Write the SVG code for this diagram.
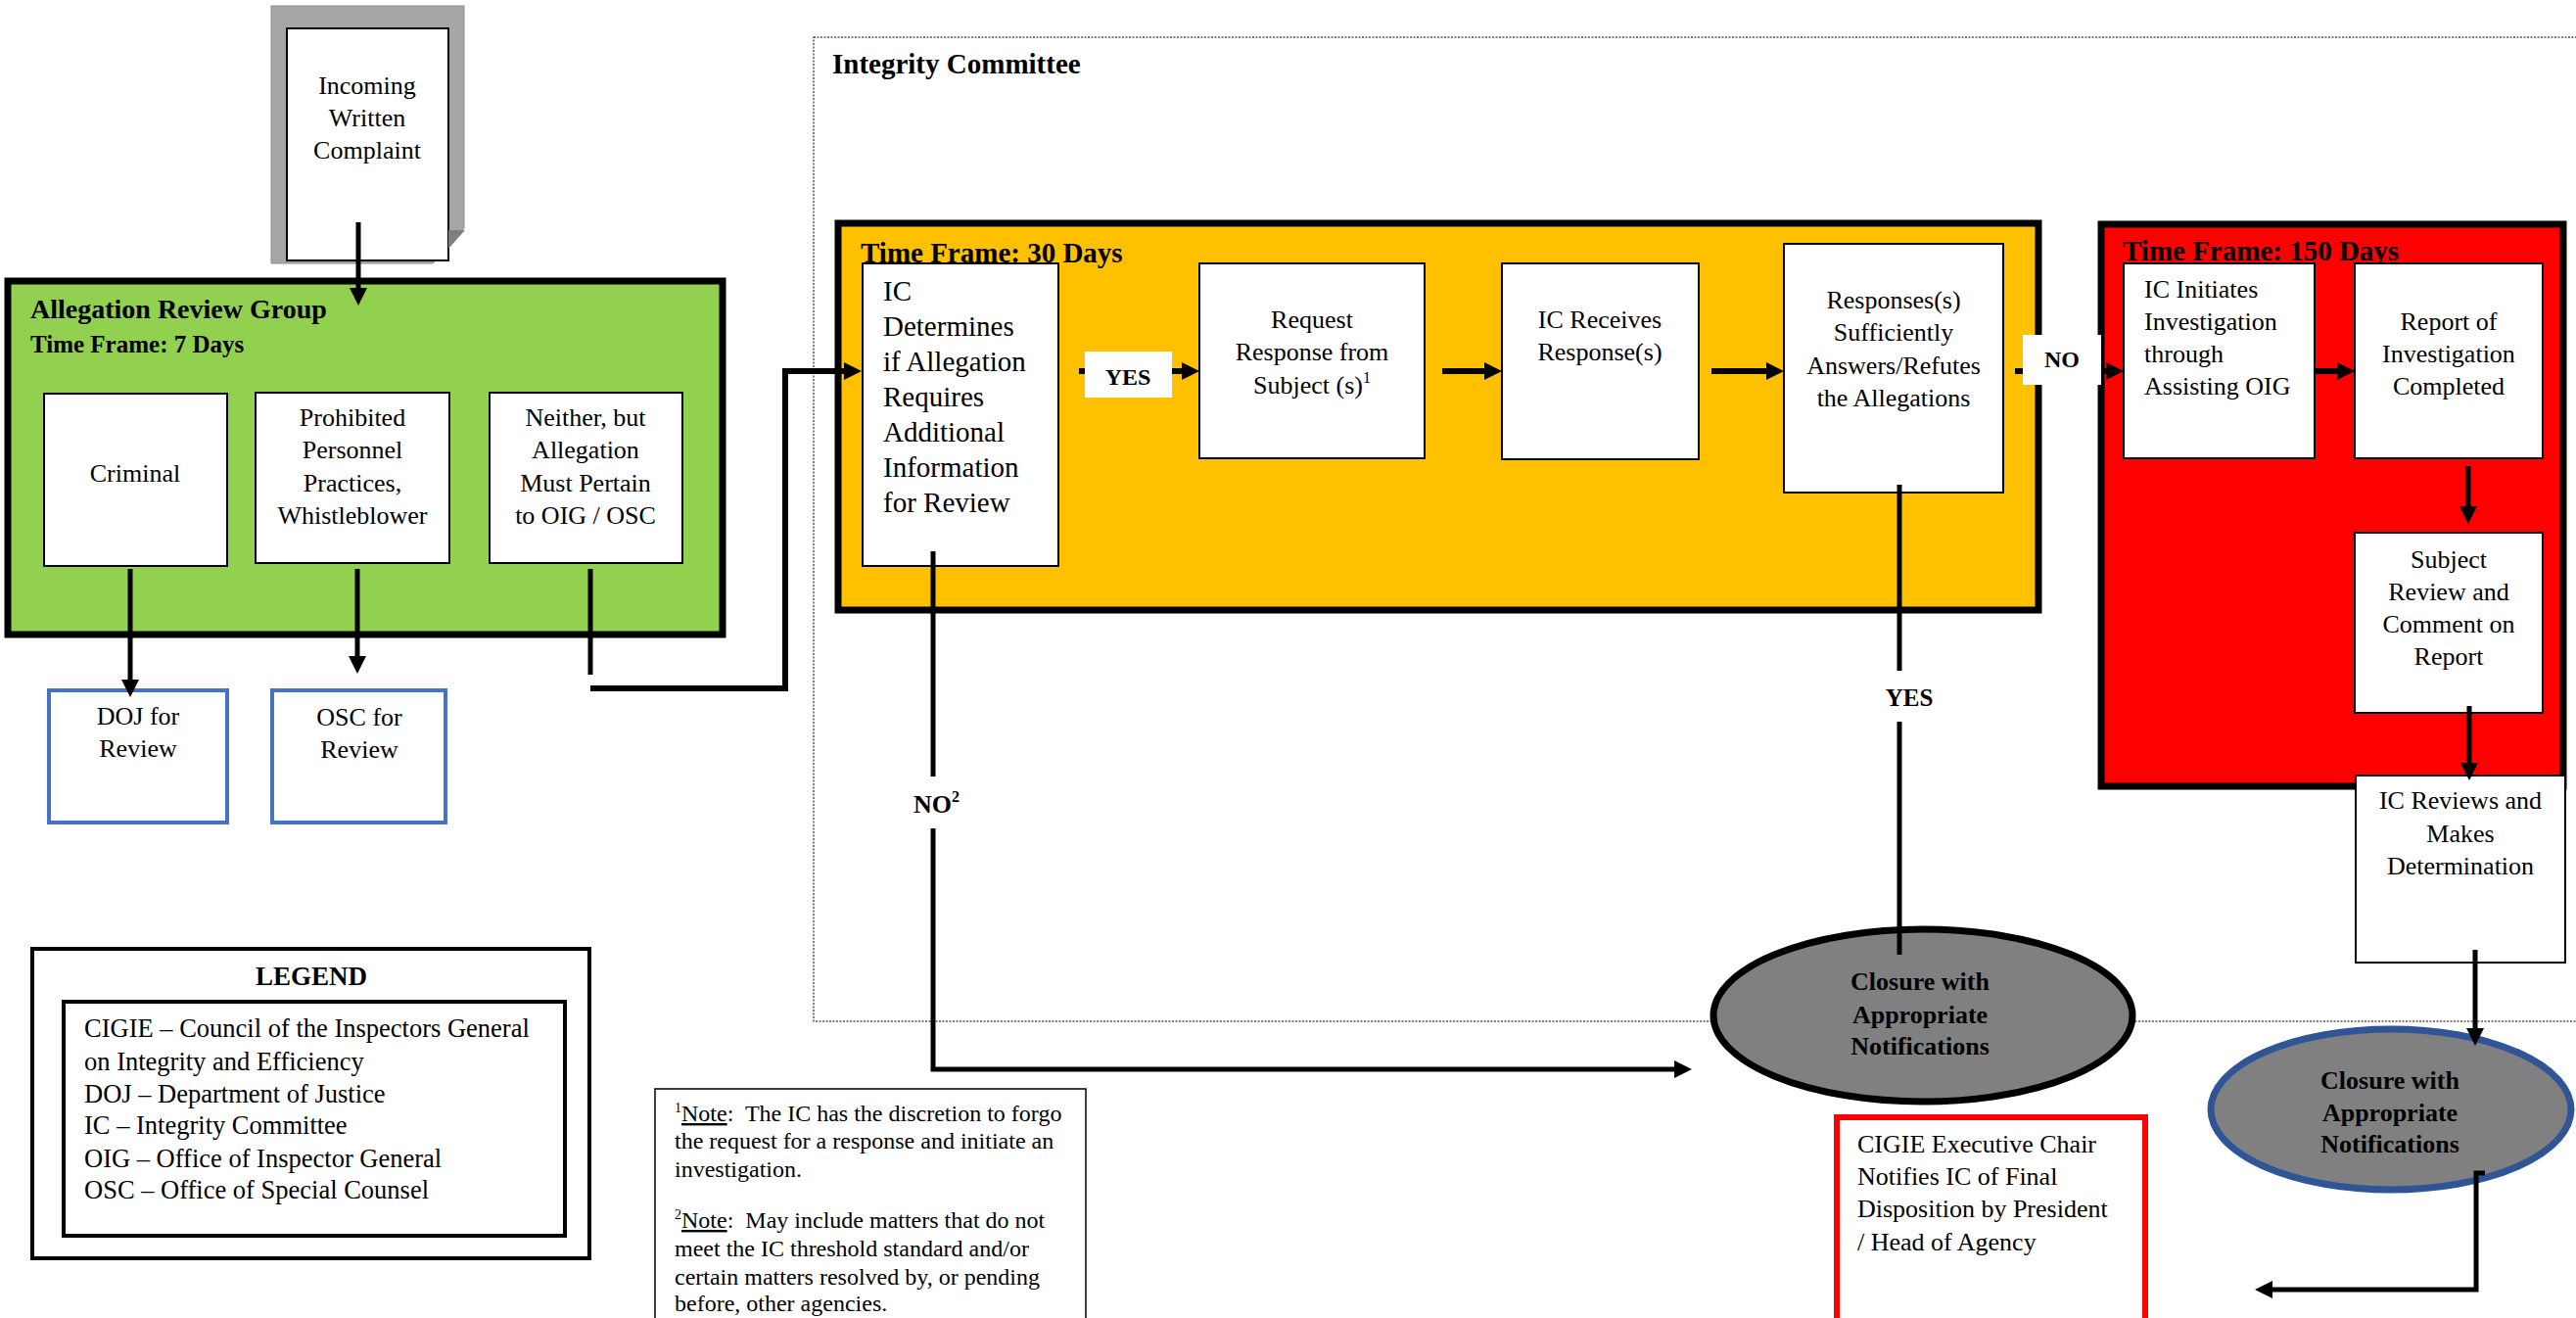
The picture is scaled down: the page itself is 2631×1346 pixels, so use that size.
<svg xmlns="http://www.w3.org/2000/svg" width="2631" height="1346" viewBox="0 0 2631 1346">
<style>
.t{font-family:"Liberation Serif","Times New Roman",serif;font-size:26px;fill:#000}
.b{font-weight:bold}
.c{text-anchor:middle}
.s29{font-size:29px}
.s24{font-size:24px}
.box{fill:#fff;stroke:#000;stroke-width:2}
.conn{fill:none;stroke:#000;stroke-width:6}
.thin{stroke-width:5}
</style>
<defs>
<marker id="ah" markerUnits="userSpaceOnUse" markerWidth="18" markerHeight="18" refX="0" refY="9" orient="auto">
<path d="M0,0 L18,9 L0,18 z" fill="#000"/>
</marker>
</defs>
<rect width="2631" height="1346" fill="#fff"/>

<g id="integrity-committee">
<rect x="831" y="38" width="1820" height="1005" fill="none" stroke="#555" stroke-width="1.5" stroke-dasharray="2,1.5"/>
<text class="t b s29" x="850" y="75">Integrity Committee</text>
</g>

<g id="complaint">
<polygon points="277,6 474,6 474,233 442,269 277,269" fill="#A6A6A6" stroke="#8c8c8c" stroke-width="1"/>
<rect x="293" y="29" width="165" height="237" fill="#fff" stroke="#000" stroke-width="2"/>
<polygon points="458,235 475,235 458,254" fill="#7f7f7f"/>
<text class="t c" x="375" y="96">Incoming</text>
<text class="t c" x="375" y="129">Written</text>
<text class="t c" x="375" y="162">Complaint</text>
</g>

<g id="allegation-review-group">
<rect x="8" y="287" width="730" height="361" fill="#92D050" stroke="#000" stroke-width="7"/>
<text class="t b" x="31" y="325" style="font-size:28px">Allegation Review Group</text>
<text class="t b" x="31" y="360" style="font-size:25px">Time Frame: 7 Days</text>
</g>
<g id="criminal">
<rect class="box" x="45" y="402" width="187" height="176"/>
<text class="t c" x="138" y="492">Criminal</text>
</g>
<g id="prohibited">
<rect class="box" x="261" y="401" width="198" height="174"/>
<text class="t c" x="360" y="435">Prohibited</text>
<text class="t c" x="360" y="468">Personnel</text>
<text class="t c" x="360" y="502">Practices,</text>
<text class="t c" x="360" y="535">Whistleblower</text>
</g>
<g id="neither">
<rect class="box" x="500" y="401" width="197" height="174"/>
<text class="t c" x="598" y="435">Neither, but</text>
<text class="t c" x="598" y="468">Allegation</text>
<text class="t c" x="598" y="502">Must Pertain</text>
<text class="t c" x="598" y="535">to OIG / OSC</text>
</g>
<g id="doj">
<rect x="50" y="705" width="182" height="135" fill="#fff" stroke="#4472C4" stroke-width="4"/>
<text class="t c" x="141" y="740">DOJ for</text>
<text class="t c" x="141" y="773">Review</text>
</g>
<g id="osc">
<rect x="278" y="705" width="177" height="135" fill="#fff" stroke="#4472C4" stroke-width="4"/>
<text class="t c" x="367" y="741">OSC for</text>
<text class="t c" x="367" y="774">Review</text>
</g>

<g id="thirty-days">
<rect x="856" y="228" width="1226" height="395" fill="#FFC000" stroke="#000" stroke-width="7"/>
<text class="t b s29" x="879" y="268">Time Frame: 30 Days</text>
</g>
<g id="ic-determines">
<rect class="box" x="881" y="269" width="200" height="309"/>
<text class="t s29" x="902" y="307">IC</text>
<text class="t s29" x="902" y="343">Determines</text>
<text class="t s29" x="902" y="379">if Allegation</text>
<text class="t s29" x="902" y="415">Requires</text>
<text class="t s29" x="902" y="451">Additional</text>
<text class="t s29" x="902" y="487">Information</text>
<text class="t s29" x="902" y="523">for Review</text>
</g>
<g id="request-response">
<rect class="box" x="1225" y="269" width="230" height="199"/>
<text class="t c" x="1340" y="335">Request</text>
<text class="t c" x="1340" y="368">Response from</text>
<text class="t c" x="1340" y="402">Subject (s)<tspan font-size="16" dy="-11">1</tspan></text>
</g>
<g id="ic-receives">
<rect class="box" x="1534" y="269" width="201" height="200"/>
<text class="t c" x="1634" y="335">IC Receives</text>
<text class="t c" x="1634" y="368">Response(s)</text>
</g>
<g id="responses-sufficient">
<rect class="box" x="1822" y="249" width="224" height="254"/>
<text class="t c" x="1934" y="315">Responses(s)</text>
<text class="t c" x="1934" y="348">Sufficiently</text>
<text class="t c" x="1934" y="382">Answers/Refutes</text>
<text class="t c" x="1934" y="415">the Allegations</text>
</g>

<g id="one-fifty-days">
<rect x="2146" y="229" width="472" height="574" fill="#FF0000" stroke="#000" stroke-width="7"/>
<text class="t b s29" x="2168" y="266">Time Frame: 150 Days</text>
</g>
<g id="ic-initiates">
<rect class="box" x="2169" y="269" width="195" height="199"/>
<text class="t" x="2190" y="304">IC Initiates</text>
<text class="t" x="2190" y="337">Investigation</text>
<text class="t" x="2190" y="370">through</text>
<text class="t" x="2190" y="403">Assisting OIG</text>
</g>
<g id="report-completed">
<rect class="box" x="2405" y="269" width="192" height="199"/>
<text class="t c" x="2501" y="337">Report of</text>
<text class="t c" x="2501" y="370">Investigation</text>
<text class="t c" x="2501" y="403">Completed</text>
</g>
<g id="subject-review">
<rect class="box" x="2405" y="544" width="192" height="184"/>
<text class="t c" x="2501" y="580">Subject</text>
<text class="t c" x="2501" y="613">Review and</text>
<text class="t c" x="2501" y="646">Comment on</text>
<text class="t c" x="2501" y="679">Report</text>
</g>
<g id="ic-reviews">
<rect class="box" x="2406" y="792" width="214" height="191"/>
<text class="t c" x="2513" y="826">IC Reviews and</text>
<text class="t c" x="2513" y="860">Makes</text>
<text class="t c" x="2513" y="893">Determination</text>
</g>

<g id="closure-1">
<ellipse cx="1964" cy="1037" rx="214" ry="88" fill="#808080" stroke="#000" stroke-width="7"/>
<text class="t b c" x="1961" y="1011">Closure with</text>
<text class="t b c" x="1961" y="1045">Appropriate</text>
<text class="t b c" x="1961" y="1077">Notifications</text>
</g>
<g id="closure-2">
<ellipse cx="2442" cy="1133" rx="184" ry="82" fill="#808080" stroke="#2F5597" stroke-width="7"/>
<text class="t b c" x="2441" y="1112">Closure with</text>
<text class="t b c" x="2441" y="1145">Appropriate</text>
<text class="t b c" x="2441" y="1177">Notifications</text>
</g>
<g id="cigie-chair">
<rect x="1876" y="1141" width="315" height="210" fill="#fff" stroke="#FF0000" stroke-width="6"/>
<text class="t" x="1897" y="1177">CIGIE Executive Chair</text>
<text class="t" x="1897" y="1210">Notifies IC of Final</text>
<text class="t" x="1897" y="1243">Disposition by President</text>
<text class="t" x="1897" y="1277">/ Head of Agency</text>
</g>

<g id="legend">
<rect x="33" y="969" width="569" height="316" fill="#fff" stroke="#000" stroke-width="4"/>
<text class="t b c" x="318" y="1006" style="font-size:27px">LEGEND</text>
<rect x="65" y="1023" width="512" height="239" fill="#fff" stroke="#000" stroke-width="4"/>
<g style="font-size:26.5px">
<text class="t" x="86" y="1059" style="font-size:26.5px">CIGIE – Council of the Inspectors General</text>
<text class="t" x="86" y="1093" style="font-size:26.5px">on Integrity and Efficiency</text>
<text class="t" x="86" y="1126" style="font-size:26.5px">DOJ – Department of Justice</text>
<text class="t" x="86" y="1158" style="font-size:26.5px">IC – Integrity Committee</text>
<text class="t" x="86" y="1192" style="font-size:26.5px">OIG – Office of Inspector General</text>
<text class="t" x="86" y="1224" style="font-size:26.5px">OSC – Office of Special Counsel</text>
</g>
</g>

<g id="notes">
<rect x="669" y="1112" width="440" height="250" fill="#fff" stroke="#000" stroke-width="1.5"/>
<text class="t s24" x="689" y="1145"><tspan font-size="14" dy="-9">1</tspan><tspan dy="9" text-decoration="underline">Note</tspan>:&#160; The IC has the discretion to forgo</text>
<text class="t s24" x="689" y="1173">the request for a response and initiate an</text>
<text class="t s24" x="689" y="1202">investigation.</text>
<text class="t s24" x="689" y="1254"><tspan font-size="14" dy="-9">2</tspan><tspan dy="9" text-decoration="underline">Note</tspan>:&#160; May include matters that do not</text>
<text class="t s24" x="689" y="1283">meet the IC threshold standard and/or</text>
<text class="t s24" x="689" y="1312">certain matters resolved by, or pending</text>
<text class="t s24" x="689" y="1339">before, other agencies.</text>
</g>

<g id="connectors">
<path class="conn thin" d="M366,227 V294" marker-end="url(#ah)"/>
<path class="conn thin" d="M133,581 V694" marker-end="url(#ah)"/>
<path class="conn thin" d="M365,581 V670" marker-end="url(#ah)"/>
<path class="conn thin" d="M603,581 V689"/>
<path class="conn" d="M603,703 H802 V379 H862" marker-end="url(#ah)"/>
<path class="conn" d="M1102,379 H1207" marker-end="url(#ah)"/>
<path class="conn" d="M1473,379 H1516" marker-end="url(#ah)"/>
<path class="conn" d="M1748,379 H1804" marker-end="url(#ah)"/>
<path class="conn" d="M2058,379 H2151" marker-end="url(#ah)"/>
<path class="conn" d="M2364,379 H2387" marker-end="url(#ah)"/>
<path class="conn thin" d="M2521,476 V517" marker-end="url(#ah)"/>
<path class="conn thin" d="M2522,721 V779" marker-end="url(#ah)"/>
<path class="conn thin" d="M2528,970 V1050" marker-end="url(#ah)"/>
<path class="conn thin" d="M2538,1198 H2529 V1317 H2321" marker-end="url(#ah)"/>
<path class="conn thin" d="M953,563 V793"/>
<path class="conn thin" d="M953,846 V1092 H1710" marker-end="url(#ah)"/>
<path class="conn thin" d="M1940,495 V685"/>
<path class="conn thin" d="M1940,737 V975"/>
</g>

<g id="labels">
<rect x="1108" y="359" width="89" height="47" fill="#fff"/>
<text class="t b c s24" x="1152" y="393">YES</text>
<rect x="2066" y="342" width="80" height="51" fill="#fff"/>
<text class="t b c s24" x="2106" y="375">NO</text>
<text class="t b c" x="1950" y="721" style="font-size:25px">YES</text>
<text class="t b" x="933" y="830">NO<tspan font-size="16" dy="-11">2</tspan></text>
</g>
</svg>
